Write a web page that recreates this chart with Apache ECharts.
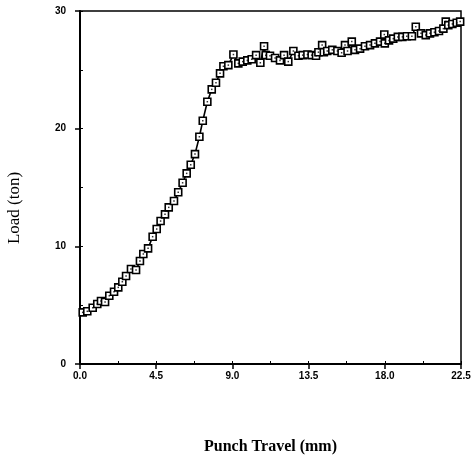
<!DOCTYPE html>
<html>
<head>
<meta charset="utf-8">
<script src="https://cdn.jsdelivr.net/npm/echarts@6/dist/echarts.min.js"></script>
<style>
html,body{margin:0;padding:0;background:#fff;}
#c{width:476px;height:460px;}
</style>
</head>
<body>
<div id="c"></div>
<script>
var travel = [0.16, 0.43, 0.75, 1.02, 1.24, 1.48, 1.73, 2.01, 2.26, 2.50, 2.72, 3.01, 3.31, 3.54, 3.74, 4.02, 4.29, 4.53, 4.76, 5.02, 5.24, 5.55, 5.80, 6.06, 6.30, 6.54, 6.79, 7.05, 7.25, 7.52, 7.78, 8.03, 8.27, 8.47, 8.76, 9.06, 9.35, 9.61, 9.88, 10.14, 10.40, 10.65, 10.87, 10.97, 11.22, 11.52, 11.81, 12.05, 12.30, 12.60, 12.90, 13.15, 13.43, 13.68, 13.94, 14.08, 14.30, 14.40, 14.60, 14.90, 15.20, 15.45, 15.65, 15.80, 16.05, 16.24, 16.54, 16.83, 17.13, 17.42, 17.72, 17.97, 18.00, 18.25, 18.50, 18.77, 19.04, 19.30, 19.60, 19.83, 20.14, 20.42, 20.67, 20.93, 21.20, 21.46, 21.60, 21.75, 21.99, 22.25, 22.45];
var load = [4.39, 4.48, 4.78, 5.10, 5.35, 5.27, 5.80, 6.14, 6.51, 6.99, 7.48, 8.07, 7.99, 8.75, 9.35, 9.83, 10.82, 11.47, 12.15, 12.72, 13.31, 13.85, 14.60, 15.40, 16.20, 16.93, 17.84, 19.31, 20.67, 22.29, 23.34, 23.90, 24.70, 25.30, 25.40, 26.30, 25.55, 25.70, 25.80, 25.90, 26.25, 25.60, 27.00, 26.25, 26.20, 26.00, 25.80, 26.25, 25.70, 26.60, 26.20, 26.25, 26.30, 26.25, 26.20, 26.50, 27.10, 26.50, 26.60, 26.70, 26.60, 26.45, 27.10, 26.60, 27.40, 26.70, 26.80, 27.00, 27.10, 27.25, 27.40, 28.00, 27.25, 27.50, 27.65, 27.80, 27.80, 27.85, 27.85, 28.66, 28.10, 27.95, 28.10, 28.20, 28.30, 28.50, 29.10, 28.80, 28.90, 29.00, 29.10];
var xTicks = [0, 4.5, 9, 13.5, 18, 22.5];
var yTicks = [0, 10, 20, 30];
var xTitle = 'Punch Travel (mm)';
var yTitle = 'Load (ton)';

var pts = travel.map(function (x, i) { return [x, load[i]]; });

var chart = echarts.init(document.getElementById('c'), null, {renderer: 'canvas'});
var labelStyle = {color: '#000', fontFamily: 'Liberation Sans', fontWeight: 'bold', fontSize: 10};
chart.setOption({
  animation: false,
  backgroundColor: '#fff',
  grid: {left: 80, right: 15, top: 11, bottom: 96, show: true, borderColor: '#000', borderWidth: 1.5, backgroundColor: 'transparent'},
  xAxis: [{
    type: 'value', min: xTicks[0], max: xTicks[xTicks.length - 1], interval: 4.5,
    axisLine: {lineStyle: {color: '#000', width: 2}},
    axisTick: {show: true, inside: false, length: 5, lineStyle: {color: '#000', width: 1.5}},
    axisLabel: Object.assign({margin: 7, formatter: function (v) { return v.toFixed(1); }}, labelStyle),
    splitLine: {show: false},
    name: xTitle, nameLocation: 'middle', nameGap: 75,
    nameTextStyle: {fontFamily: 'Liberation Serif', fontWeight: 'bold', fontSize: 16, color: '#000'}
  }, {
    type: 'value', min: 0, max: 22.5, interval: 2.25, position: 'bottom',
    axisLine: {show: false},
    axisTick: {show: true, inside: true, length: 3, lineStyle: {color: '#000', width: 1}},
    axisLabel: {show: false}, splitLine: {show: false}
  }],
  yAxis: [{
    type: 'value', min: yTicks[0], max: yTicks[yTicks.length - 1], interval: 10,
    axisLine: {show: true, lineStyle: {color: '#000', width: 2}},
    axisTick: {show: true, inside: false, length: 5, lineStyle: {color: '#000', width: 1.5}},
    axisLabel: Object.assign({margin: 14}, labelStyle),
    splitLine: {show: false}
  }, {
    type: 'value', min: 0, max: 30, interval: 5, position: 'left', offset: 0,
    axisLine: {show: false},
    axisTick: {show: true, inside: true, length: 3, lineStyle: {color: '#000', width: 1}},
    axisLabel: {show: false}, splitLine: {show: false}
  }],
  graphic: [{
    type: 'text', x: 15, y: 208, rotation: Math.PI / 2,
    style: {text: yTitle, fontFamily: 'Liberation Serif', fontSize: 17, fill: '#000', align: 'center', verticalAlign: 'middle'}
  }],
  series: [{
    type: 'line', data: pts, xAxisIndex: 0, yAxisIndex: 0,
    symbol: 'rect', symbolSize: 7, showAllSymbol: true,
    lineStyle: {color: '#000', width: 1.6},
    itemStyle: {color: '#fff', borderColor: '#000', borderWidth: 1.6},
    z: 3
  }, {
    type: 'scatter', data: pts, xAxisIndex: 0, yAxisIndex: 0,
    symbol: 'rect', symbolSize: 1.5,
    itemStyle: {color: '#000'}, z: 4, silent: true
  }]
});
</script>
</body>
</html>
